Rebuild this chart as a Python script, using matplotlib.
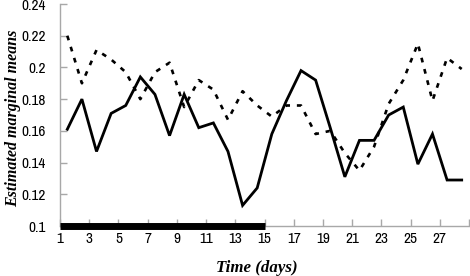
import numpy as np
import matplotlib
matplotlib.use("Agg")
import matplotlib.pyplot as plt

days = np.arange(1, 29)
solid = [0.161, 0.180, 0.147, 0.171, 0.176, 0.194, 0.183, 0.157, 0.183, 0.162,
         0.165, 0.147, 0.113, 0.124, 0.158, 0.179, 0.198, 0.192, 0.162, 0.131,
         0.154, 0.154, 0.170, 0.175, 0.139, 0.158, 0.129, 0.129]
dashed = [0.220, 0.190, 0.211, 0.205, 0.197, 0.180, 0.197, 0.203, 0.175, 0.192,
          0.186, 0.167, 0.185, 0.176, 0.169, 0.176, 0.176, 0.158, 0.160, 0.146,
          0.135, 0.150, 0.177, 0.192, 0.215, 0.179, 0.206, 0.199]
bar_days = [1, 15]
xtick_days = list(range(1, 30, 2))
yticks = [0.1, 0.12, 0.14, 0.16, 0.18, 0.2, 0.22, 0.24]

tick_font = ["Archivo Narrow", "DejaVu Sans"]
label_font = "Liberation Serif"

fig = plt.figure(figsize=(4.7, 2.76), dpi=100)
ax = fig.add_axes([60 / 470, 50 / 276, 409 / 470, 222 / 276])

# points sit in the middle of each day slot, labels on the slot edges
xpos = days + 0.5
ax.plot(xpos, solid, color="black", lw=2.0, solid_joinstyle="miter")
ax.plot(xpos, dashed, color="black", lw=1.9, linestyle=(0, (1.8, 2.6)))
ax.plot(bar_days, [0.1, 0.1], color="black", lw=5, solid_capstyle="butt",
        clip_on=False, zorder=5)

ax.set_xlim(1, 29)
ax.set_ylim(0.1, 0.24)
ax.set_xticks(xtick_days)
ax.set_xticklabels([str(d) if d < 29 else "" for d in xtick_days],
                   fontfamily=tick_font, fontsize=11)
ax.set_yticks(yticks)
ax.set_yticklabels(["%g" % v for v in yticks], fontfamily=tick_font, fontsize=11)

for side in ["top", "right"]:
    ax.spines[side].set_visible(False)
for side in ["left", "bottom"]:
    ax.spines[side].set_color("#a8a8a8")
    ax.spines[side].set_linewidth(1.0)
ax.tick_params(axis="both", direction="in", length=5, color="#a8a8a8", width=1)
ax.tick_params(axis="y", pad=10)
ax.tick_params(axis="x", pad=4)

ax.set_xlabel("Time (days)", fontfamily=label_font, fontsize=12.2,
              fontweight="bold", fontstyle="italic")
ax.xaxis.set_label_coords(0.48, -0.155)
ax.set_ylabel("Estimated marginal means", fontfamily=label_font, fontsize=11.5,
              fontweight="bold", fontstyle="italic")
ax.yaxis.set_label_coords(-0.095, 0.485)

fig.savefig("out.png", dpi=100)
